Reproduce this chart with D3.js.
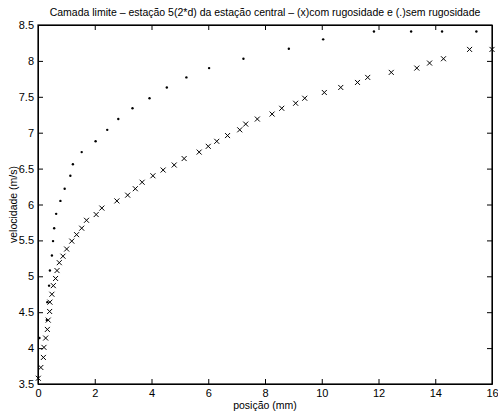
<!DOCTYPE html>
<html>
<head>
<meta charset="utf-8">
<script src="https://cdn.jsdelivr.net/npm/d3@7"></script>
<style>
  body { margin: 0; background: #fff; }
  svg { display: block; font-family: "Liberation Sans", Arial, Helvetica, sans-serif; }
</style>
</head>
<body>
<div id="chart"></div>
<script>
// série (x): com rugosidade
const comX = [0.01, 0.10, 0.19, 0.21, 0.27, 0.33, 0.36, 0.41, 0.42, 0.49, 0.54, 0.62, 0.67, 0.75, 0.88, 1.01, 1.19, 1.36, 1.54, 1.71, 2.05, 2.25, 2.78, 3.16, 3.43, 3.67, 4.05, 4.41, 4.80, 5.15, 5.68, 6.00, 6.30, 6.68, 7.11, 7.32, 7.73, 8.25, 8.59, 9.08, 9.40, 10.09, 10.67, 11.26, 11.62, 12.45, 13.35, 13.80, 14.29, 15.21, 16.00];
const comV = [3.58, 3.73, 3.87, 4.01, 4.14, 4.26, 4.39, 4.51, 4.64, 4.75, 4.87, 4.97, 5.08, 5.19, 5.28, 5.38, 5.49, 5.58, 5.67, 5.78, 5.86, 5.95, 6.05, 6.13, 6.22, 6.31, 6.40, 6.48, 6.55, 6.64, 6.73, 6.81, 6.88, 6.96, 7.04, 7.12, 7.19, 7.26, 7.34, 7.41, 7.48, 7.56, 7.63, 7.70, 7.77, 7.84, 7.90, 7.97, 8.03, 8.16, 8.16];

// série (.): sem rugosidade
const semX = [0.05, 0.31, 0.33, 0.39, 0.42, 0.49, 0.53, 0.57, 0.64, 0.79, 0.94, 1.14, 1.23, 1.54, 2.03, 2.44, 2.83, 3.33, 3.93, 4.54, 5.23, 6.03, 7.24, 8.84, 10.05, 11.84, 13.15, 14.24, 15.45];
const semV = [4.14, 4.39, 4.64, 4.87, 5.08, 5.29, 5.49, 5.67, 5.87, 6.05, 6.22, 6.40, 6.56, 6.73, 6.88, 7.04, 7.19, 7.34, 7.48, 7.63, 7.77, 7.90, 8.03, 8.17, 8.30, 8.41, 8.41, 8.41, 8.41];

const xTicks = [0, 2, 4, 6, 8, 10, 12, 14, 16];
const yTicks = [3.5, 4, 4.5, 5, 5.5, 6, 6.5, 7, 7.5, 8, 8.5];

const titulo = "Camada limite \u2013 esta\u00e7\u00e3o 5(2*d) da esta\u00e7\u00e3o central \u2013 (x)com rugosidade e (.)sem rugosidade";

const width = 498, height = 414;
const margin = {top: 25, right: 6, bottom: 30, left: 38};
const w = width - margin.left - margin.right;
const h = height - margin.top - margin.bottom;

const svg = d3.select("#chart").append("svg")
    .attr("width", width)
    .attr("height", height);

const g = svg.append("g")
    .attr("transform", `translate(${margin.left},${margin.top})`);

const x = d3.scaleLinear().domain([0, 16]).range([0, w]);
const y = d3.scaleLinear().domain([3.5, 8.5]).range([h, 0]);

// eixos com ticks para dentro (estilo matlab)
const fmt = d => d3.format("")(d);
g.append("g").attr("transform", `translate(0,${h})`)
    .call(d3.axisBottom(x).tickValues(xTicks).tickSizeInner(-5).tickSizeOuter(0).tickPadding(5).tickFormat(fmt));
g.append("g").call(d3.axisTop(x).tickValues(xTicks).tickSizeInner(-5).tickSizeOuter(0).tickFormat(""));
g.append("g")
    .call(d3.axisLeft(y).tickValues(yTicks).tickSizeInner(-5).tickSizeOuter(0).tickPadding(4).tickFormat(fmt));
g.append("g").attr("transform", `translate(${w},0)`)
    .call(d3.axisRight(y).tickValues(yTicks).tickSizeInner(-5).tickSizeOuter(0).tickFormat(""));

g.selectAll(".domain").attr("stroke", "#000").attr("stroke-width", 1);
g.selectAll(".tick line").attr("stroke", "#000");
g.selectAll(".tick text").attr("font-size", 11).attr("fill", "#000")
    .attr("font-family", "'Liberation Sans', Arial, sans-serif");

// moldura
g.append("rect")
    .attr("width", w).attr("height", h)
    .attr("fill", "none").attr("stroke", "#000").attr("stroke-width", 1.2);

// marcadores x
const s = 2.5;
g.selectAll("path.xm")
    .data(comX.map((d, i) => [d, comV[i]]))
    .enter().append("path")
    .attr("class", "xm")
    .attr("d", d => {
        const cx = x(d[0]), cy = y(d[1]);
        return `M${cx - s},${cy - s}L${cx + s},${cy + s}M${cx - s},${cy + s}L${cx + s},${cy - s}`;
    })
    .attr("stroke", "#000")
    .attr("stroke-width", 1);

// marcadores .
g.selectAll("circle.pt")
    .data(semX.map((d, i) => [d, semV[i]]))
    .enter().append("circle")
    .attr("class", "pt")
    .attr("cx", d => x(d[0]))
    .attr("cy", d => y(d[1]))
    .attr("r", 1.2)
    .attr("fill", "#000");

// textos
svg.append("text")
    .attr("x", margin.left + w / 2).attr("y", 16)
    .attr("text-anchor", "middle")
    .attr("font-size", 10.5)
    .text(titulo);

svg.append("text")
    .attr("x", margin.left + w / 2).attr("y", 409)
    .attr("text-anchor", "middle")
    .attr("font-size", 10.5)
    .text("posi\u00e7\u00e3o (mm)");

svg.append("text")
    .attr("transform", `translate(17,${margin.top + h / 2}) rotate(-90)`)
    .attr("text-anchor", "middle")
    .attr("font-size", 10.5)
    .text("velocidade (m/s)");
</script>
</body>
</html>
